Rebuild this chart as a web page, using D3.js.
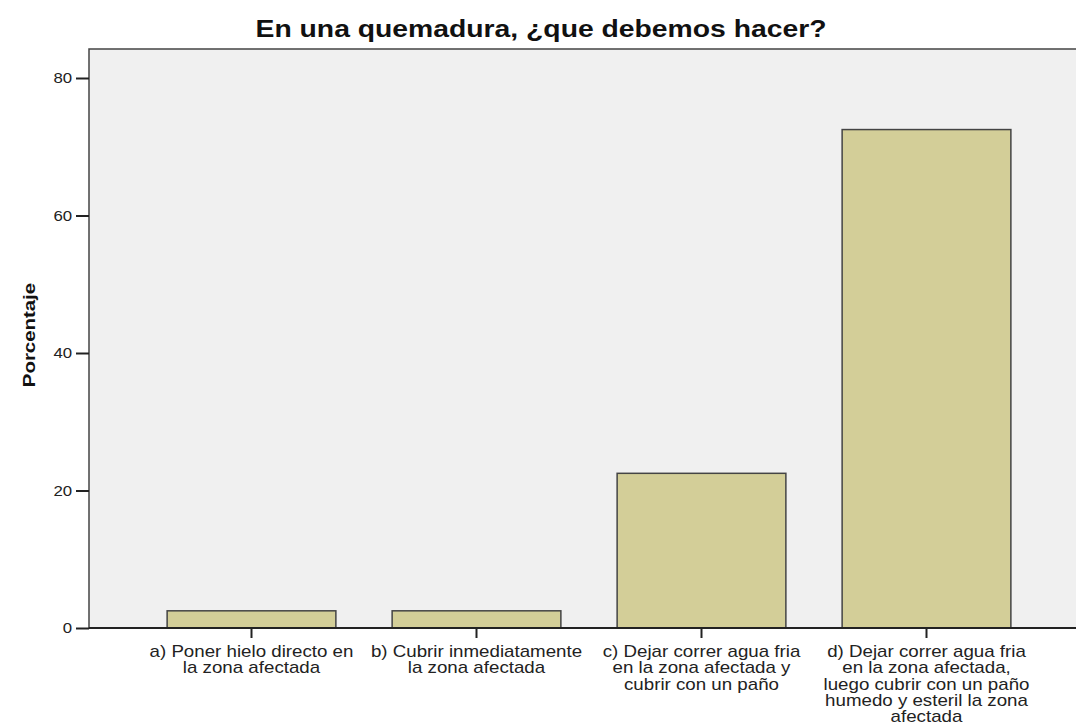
<!DOCTYPE html>
<html>
<head>
<meta charset="utf-8">
<script src="https://cdn.jsdelivr.net/npm/d3@7"></script>
<style>
  body { margin: 0; background: #fff; }
  text { font-family: "Liberation Sans", Arial, sans-serif; }
</style>
</head>
<body>
<svg id="chart"></svg>
<script>
var categories = [
    ['a) Poner hielo directo en', 'la zona afectada'],
    ['b) Cubrir inmediatamente', 'la zona afectada'],
    ['c) Dejar correr agua fria', 'en la zona afectada y', 'cubrir con un paño'],
    ['d) Dejar correr agua fria', 'en la zona afectada,', 'luego cubrir con un paño', 'humedo y esteril la zona', 'afectada']
]
var percents = [2.5, 2.5, 22.5, 72.5]
var yTicks = [0, 20, 40, 60, 80]

var width = 1076, height = 725
var plotLeft = 89, plotTop = 49, plotBottom = 628

var svg = d3.select('#chart').attr('width', width).attr('height', height)

var x = d3.scaleBand().domain(d3.range(categories.length)).range([139, 1039]).paddingInner(0.25).paddingOuter(0.125)
var y = d3.scaleLinear().domain([0, 80]).range([plotBottom, 78])

// plot background
svg.append('rect')
    .attr('x', plotLeft).attr('y', plotTop)
    .attr('width', width - plotLeft + 5).attr('height', plotBottom - plotTop)
    .style('fill', '#f0f0f0')
    .style('stroke', '#444').style('stroke-width', 1.5)

// bars
svg.selectAll('rect.bar')
    .data(percents)
    .enter()
    .append('rect')
    .attr('class', 'bar')
    .attr('x', function (d, i) { return x(i) })
    .attr('width', x.bandwidth())
    .attr('y', function (d) { return y(d) })
    .attr('height', function (d) { return plotBottom - y(d) })
    .style('fill', '#d3ce98')
    .style('stroke', '#444')
    .style('stroke-width', 1.5)

// y axis
var yAxis = svg.append('g')
    .attr('transform', 'translate(' + plotLeft + ',0)')
    .call(d3.axisLeft(y).tickValues(yTicks).tickSize(13).tickPadding(2))
yAxis.select('.domain').remove()
yAxis.selectAll('line').style('stroke', '#222').style('stroke-width', 2)
yAxis.selectAll('text')
    .attr('transform', 'scale(1.12,1)')
    .style('font-size', '15px').style('fill', '#222')

// x axis
var xAxis = svg.append('g')
    .attr('transform', 'translate(0,' + plotBottom + ')')
    .call(d3.axisBottom(x).tickSize(10).tickFormat(''))
xAxis.select('.domain').remove()
xAxis.selectAll('line').style('stroke', '#222').style('stroke-width', 2)

svg.append('line')
    .attr('x1', plotLeft).attr('x2', width)
    .attr('y1', plotBottom).attr('y2', plotBottom)
    .style('stroke', '#222').style('stroke-width', 2)

// category labels
categories.forEach(function (lines, i) {
    var t = svg.append('g')
        .attr('transform', 'translate(' + (x(i) + x.bandwidth() / 2) + ',657) scale(1.17,1)')
        .append('text')
        .attr('text-anchor', 'middle')
        .style('font-size', '16px')
        .style('fill', '#222')
    lines.forEach(function (l, j) {
        t.append('tspan')
            .attr('x', 0)
            .attr('dy', j === 0 ? 0 : 16.3)
            .text(l)
    })
})

// titles
svg.append('text')
    .attr('transform', 'translate(541,37) scale(1.18,1)')
    .attr('text-anchor', 'middle')
    .style('font-size', '24px').style('font-weight', 'bold')
    .style('fill', '#111')
    .text('En una quemadura, ¿que debemos hacer?')

svg.append('text')
    .attr('transform', 'translate(35,335) rotate(-90) scale(1.2,1)')
    .attr('text-anchor', 'middle')
    .style('font-size', '17px').style('font-weight', 'bold')
    .style('fill', '#111')
    .text('Porcentaje')
</script>
</body>
</html>
